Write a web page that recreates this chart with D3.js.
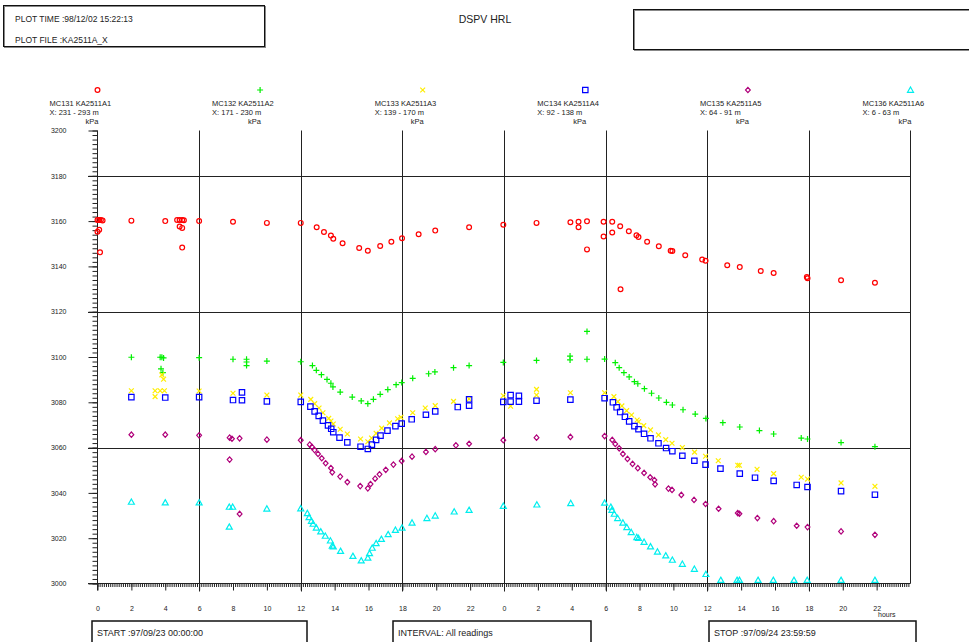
<!DOCTYPE html>
<html>
<head>
<meta charset="utf-8">
<title>DSPV HRL</title>
<style>
  body { margin: 0; padding: 0; background: #fff; }
  svg { display: block; }
  text { font-family: "Liberation Sans", Arial, Helvetica, sans-serif; fill: #222; }
</style>
</head>
<body>
<svg width="969" height="642"></svg>
<script src="https://d3js.org/d3.v7.min.js"></script>
<script>

// readings: [hour since start, value in kPa]
var mc131 = [[0,3160.5],[0.1,3160.5],[0.2,3160.5],[0.3,3160.3],[0.1,3156.2],[0,3155.3],[0.15,3146.2],
  [2,3160.2],[4,3160],[4.7,3160.5],[4.85,3160.5],[5,3160.5],[5.1,3160.4],[4.85,3157.6],[5,3157],[5,3148.3],
  [6,3160],[8,3159.7],[10,3159.2],[12,3159.2],[12.94,3157.3],[13.37,3155.2],[13.78,3153.6],[13.92,3152.2],
  [14.47,3150.2],[15.45,3148.1],[15.96,3146.9],[16.69,3149],[17.35,3150.9],[17.98,3152.4],[18.96,3154.2],
  [19.94,3155.8],[21.94,3157.3],[23.96,3158.4],[25.92,3159.2],[27.92,3159.5],[28.4,3159.7],[28.4,3157.3],
  [28.9,3159.9],[28.9,3147.5],[29.88,3159.7],[29.88,3153.2],[30.39,3159.7],[30.39,3155],[30.86,3157.7],
  [30.88,3129.9],[31.37,3155.5],[31.82,3153.7],[31.94,3153],[32.45,3150.9],[33.14,3148.9],[33.84,3146.9],
  [33.94,3146.8],[34.7,3144.9],[35.7,3143],[35.9,3142.5],[37.18,3140.5],[37.92,3139.7],[39.16,3138],
  [39.92,3137.1],[41.88,3135.3],[41.92,3134.8],[43.9,3133.9],[45.9,3132.8]]

var mc132 = [[2,3099.9],[3.7,3099.9],[3.8,3099.9],[3.9,3099.6],[3.75,3094.8],[3.86,3093.1],[6,3099.7],
  [8,3099],[8.8,3099],[8.8,3097.8],[8.8,3096.2],[10,3098.2],[12,3097.9],[12.69,3096.2],[12.92,3094.1],
  [13.22,3092.2],[13.55,3090.1],[13.78,3088.4],[13.9,3086.8],[14.33,3084.5],[15.04,3082.3],[15.57,3080.6],
  [15.96,3079.4],[16.29,3081.3],[16.69,3083.5],[17.14,3085.6],[17.63,3087.8],[17.96,3088.7],[18.61,3090.6],
  [19.55,3092.6],[19.92,3093.4],[21.02,3095.3],[21.94,3096.2],[23.96,3097.6],[25.92,3098.5],[27.9,3100.4],
  [27.9,3098.7],[28.9,3111.3],[28.9,3099],[29.94,3099.1],[30.57,3097.5],[30.8,3095.3],[31.08,3093.1],
  [31.39,3091.2],[31.7,3089.1],[31.9,3088.2],[32.29,3086],[32.71,3084],[33.14,3081.9],[33.59,3080],
  [33.94,3078.8],[34.57,3076.7],[35.29,3074.8],[35.92,3072.9],[36.92,3071],[37.92,3069.1],[39.08,3067.5],
  [39.92,3066],[41.55,3064.2],[41.92,3063.8],[43.9,3062.2],[45.9,3060.4]]

var mc133 = [[2,3085.1],[3.4,3085.1],[3.7,3085.1],[3.95,3085.1],[3.4,3082.5],[3.8,3092.1],[3.9,3090.2],
  [6,3085],[8,3084],[10,3083.2],[12,3083.2],[12.59,3081.3],[12.82,3079.4],[13.08,3077.5],[13.31,3075.4],
  [13.65,3072.9],[13.78,3071.7],[13.92,3070.4],[14.33,3068.1],[14.75,3066],[15.53,3063.8],[15.96,3062.6],
  [16.18,3064.2],[16.45,3066.3],[16.78,3068.6],[17.24,3070.9],[17.72,3072.7],[17.92,3073.4],[18.61,3075.4],
  [19.35,3077.5],[19.94,3078.5],[21.02,3080.4],[21.94,3081.5],[23.96,3082.9],[24.39,3078.3],[25.92,3085.7],
  [25.92,3083.2],[27.92,3084.2],[29.94,3084.2],[30.49,3082.5],[30.72,3080.3],[30.96,3078.4],[31.24,3076.3],
  [31.53,3074.4],[31.86,3072.2],[31.94,3071.4],[32.25,3069.7],[32.65,3067.8],[33.12,3065.6],[33.55,3063.5],
  [33.92,3061.9],[34.53,3060],[35.25,3058],[35.9,3056.2],[36.65,3054.2],[37.8,3052.2],[37.9,3052.2],
  [38.94,3050.4],[39.92,3048.5],[41.55,3046.9],[41.92,3046.1],[43.9,3044.4],[45.9,3042.9]]

var mc134 = [[2,3082.3],[4,3082.1],[6,3082.3],[8,3081],[8.53,3084.4],[8.53,3080.9],[10,3080.4],[12,3080.2],
  [12.57,3078.1],[12.82,3076],[13.06,3074],[13.31,3071.9],[13.61,3069.8],[13.8,3068.3],[13.92,3066.8],
  [14.29,3064.4],[14.75,3062.3],[15.53,3060.4],[15.96,3059.4],[16.2,3061.3],[16.45,3063.4],[16.71,3065.3],
  [17.12,3067.5],[17.59,3069.5],[17.96,3070.6],[18.55,3072.5],[19.39,3074.5],[19.94,3076],[21.27,3077.9],
  [21.94,3078.5],[21.94,3081.3],[23.96,3080.2],[24.39,3083.2],[24.39,3080.3],[24.88,3082.9],[24.88,3080.3],
  [25.92,3080.7],[27.92,3081.2],[29.94,3081.8],[30.43,3080],[30.65,3077.8],[30.86,3075.7],[31.14,3073.6],
  [31.39,3071.6],[31.7,3069.5],[31.94,3068.1],[32.27,3066.1],[32.65,3064.1],[33.12,3061.9],[33.57,3059.8],
  [33.94,3058.4],[34.53,3056.4],[35.24,3054.2],[35.9,3052.5],[36.78,3050.7],[37.92,3048.5],[38.82,3046.7],
  [39.92,3045.3],[41.28,3043.5],[41.92,3042.6],[43.9,3040.8],[45.9,3039.2]]

var mc135 = [[2,3065.7],[4,3065.7],[6,3065.4],[7.8,3064.4],[7.94,3063.9],[8.39,3064.1],[7.8,3054.7],
  [8.39,3030.7],[10,3063.5],[12,3063.3],[12.53,3061.3],[12.66,3060.3],[12.82,3058.9],[13.02,3057.2],
  [13.24,3055.3],[13.47,3053.1],[13.78,3051],[13.86,3049.1],[14.33,3047.2],[14.75,3044.8],[15.51,3043],
  [15.96,3042],[16.12,3043.9],[16.39,3046.3],[16.65,3048.2],[17.02,3050.2],[17.47,3052.5],[17.96,3054.1],
  [18.57,3056],[19.39,3058.1],[19.94,3059.3],[21.16,3061],[21.94,3061.7],[23.96,3063.3],[25.92,3064.4],
  [27.92,3064.7],[29.94,3065.1],[30.39,3063.4],[30.57,3061.6],[30.8,3059.7],[31.02,3057.2],[31.29,3055],
  [31.59,3052.8],[31.9,3050.9],[32.27,3048.8],[32.63,3046.9],[32.88,3045.7],[32.92,3043.8],[33.71,3041.9],
  [33.92,3041.3],[34.47,3039.1],[35.22,3036.9],[35.9,3035.1],[36.67,3033],[37.8,3031.1],[37.9,3030.8],
  [38.96,3028.9],[39.92,3027.5],[41.28,3025.5],[41.92,3024.9],[43.9,3023],[45.9,3021.5]]

var mc136 = [[2,3036],[4,3035.7],[6,3035.7],[7.78,3033.8],[7.98,3033.8],[7.78,3025],[10,3033],[12,3033.1],
  [12.39,3031],[12.49,3029.2],[12.63,3027.6],[12.73,3026.3],[12.92,3024.6],[13.18,3022.9],[13.45,3021],
  [13.75,3018.9],[13.86,3016.6],[13.92,3016.3],[14.35,3014.3],[15.08,3012.1],[15.57,3010.1],[15.96,3011.3],
  [16.06,3013.3],[16.22,3015.7],[16.45,3017.7],[16.76,3019.6],[17.16,3021.7],[17.59,3023.6],[17.98,3024.6],
  [18.57,3026.8],[19.45,3028.8],[19.94,3029.9],[21.06,3031.7],[21.94,3032.4],[23.96,3034.2],[25.94,3034.8],
  [27.94,3035.4],[29.94,3035.6],[30.31,3033.8],[30.37,3032.4],[30.51,3030.7],[30.71,3028.8],[31.02,3026.8],
  [31.25,3024.8],[31.51,3022.6],[31.84,3020.4],[31.94,3020],[32.27,3018.3],[32.65,3016.3],[33.06,3014],
  [33.55,3012.3],[33.94,3010.4],[34.53,3008.6],[35.24,3006.4],[35.92,3004.1],[36.8,3001.5],[37.76,3001.5],
  [37.9,3001.5],[39,3001.5],[39.9,3001.5],[41.12,3001.5],[41.9,3001.5],[43.9,3001.5],[45.9,3001.5]]

var seriesNames = ["MC131 KA2511A1", "MC132 KA2511A2", "MC133 KA2511A3", "MC134 KA2511A4", "MC135 KA2511A5", "MC136 KA2511A6"]
var seriesRanges = ["X: 231 - 293 m", "X: 171 - 230 m", "X: 139 - 170 m", "X: 92 - 138 m", "X: 64 - 91 m", "X: 6 - 63 m"]
var seriesData = [mc131, mc132, mc133, mc134, mc135, mc136]
var colors = ["#ff0000", "#00f000", "#ffee00", "#0000ff", "#b0007a", "#00eeee"]
var shapes = ["circle", "plus", "cross", "square", "diamond", "triangle"]

var hourTicks = d3.range(0, 47, 2)
var valueTicks = d3.range(3000, 3201, 20)

var svg = d3.select("svg")

var x = d3.scaleLinear().domain([0, 48]).range([97.5, 910.5])
var y = d3.scaleLinear().domain([3000, 3200]).range([583.5, 130.5])

function marker(shape) {
  switch (shape) {
    case "circle": return "M2.4,0A2.4,2.4 0 1,1 -2.4,0A2.4,2.4 0 1,1 2.4,0Z"
    case "plus": return "M-3,0H3M0,-3V3"
    case "cross": return "M-2.4,-2.4L2.4,2.4M-2.4,2.4L2.4,-2.4"
    case "square": return "M-2.7,-2.7H2.7V2.7H-2.7Z"
    case "diamond": return "M0,-2.7L2.4,0L0,2.7L-2.4,0Z"
    case "triangle": return "M0,-3L3,2.3H-3Z"
  }
}

// header
function box(x0, y0, w, h) {
  svg.append("rect").attr("x", x0 + 1).attr("y", y0 + 1).attr("width", w).attr("height", h)
    .attr("fill", "none").attr("stroke", "#888").attr("stroke-width", 1)
  svg.append("rect").attr("x", x0).attr("y", y0).attr("width", w).attr("height", h)
    .attr("fill", "none").attr("stroke", "#111").attr("stroke-width", 1)
}
box(3.5, 5.5, 261, 41)
box(633.5, 9.5, 340, 40)
svg.append("text").attr("x", 15).attr("y", 22).style("font-size", "8.5px").text("PLOT TIME :98/12/02 15:22:13")
svg.append("text").attr("x", 15).attr("y", 43).style("font-size", "8.5px").text("PLOT FILE :KA2511A_X")
svg.append("text").attr("x", 485).attr("y", 23).attr("text-anchor", "middle").style("font-size", "10.5px").text("DSPV HRL")

// legend
var legend = svg.selectAll("g.legend").data(seriesNames).enter().append("g")
  .attr("class", "legend")
  .attr("transform", (d, i) => "translate(" + (x(0) + i * (x(48) - x(0)) / 5) + ",0)")
legend.append("path").attr("transform", "translate(0,90)")
  .attr("d", (d, i) => marker(shapes[i])).attr("fill", "none")
  .attr("stroke", (d, i) => colors[i]).attr("stroke-width", 1.2)
legend.append("text").attr("x", -48).attr("y", 106).style("font-size", "7.5px").text(d => d)
legend.append("text").attr("x", -48).attr("y", 115).style("font-size", "7.5px").text((d, i) => seriesRanges[i])
legend.append("text").attr("x", -12).attr("y", 124).style("font-size", "7.5px").text("kPa")

// grid
svg.append("g").selectAll("line").data(d3.range(3060, 3201, 60)).enter().append("line")
  .attr("x1", 88).attr("x2", x(48)).attr("y1", d => Math.round(y(d)) + 0.5).attr("y2", d => Math.round(y(d)) + 0.5)
  .attr("stroke", "#222").attr("stroke-width", 1)
svg.append("g").selectAll("line").data(d3.range(6, 43, 6)).enter().append("line")
  .attr("x1", d => Math.round(x(d)) + 0.5).attr("x2", d => Math.round(x(d)) + 0.5)
  .attr("y1", y(3200)).attr("y2", y(3000) + 8)
  .attr("stroke", "#222").attr("stroke-width", 1)
svg.append("line").attr("x1", x(48)).attr("x2", x(48)).attr("y1", y(3200)).attr("y2", y(3000))
  .attr("stroke", "#222").attr("stroke-width", 1)

// y axis
var yMinor = svg.append("g").attr("transform", "translate(" + x(0) + ",0)")
  .call(d3.axisLeft(y).tickValues(d3.range(3000, 3201, 2)).tickSize(5).tickFormat(""))
var yMajor = svg.append("g").attr("transform", "translate(" + x(0) + ",0)")
  .call(d3.axisLeft(y).tickValues(valueTicks).tickSize(9).tickPadding(22).tickFormat(d3.format("d")))
yMajor.selectAll("text").style("font-size", "7px").attr("fill", "#222")

// x axis
var xMinor = svg.append("g").attr("transform", "translate(0," + y(3000) + ")")
  .call(d3.axisBottom(x).tickValues(d3.range(0, 48, 0.125)).tickSize(3.5).tickFormat(""))
var xMajor = svg.append("g").attr("transform", "translate(0," + y(3000) + ")")
  .call(d3.axisBottom(x).tickValues(hourTicks).tickSize(7).tickPadding(16).tickFormat(d => d % 24))
xMajor.selectAll("text").style("font-size", "7px").attr("fill", "#222")
svg.selectAll(".domain").remove()
svg.append("line").attr("x1", 88).attr("x2", x(48)).attr("y1", y(3000)).attr("y2", y(3000)).attr("stroke", "#222")
svg.append("line").attr("x1", x(0)).attr("x2", x(0)).attr("y1", y(3200)).attr("y2", y(3000) + 7).attr("stroke", "#222")
svg.selectAll(".tick line").attr("stroke", "#222")
svg.append("text").attr("x", 878).attr("y", 617).style("font-size", "7px").text("hours")

// points
seriesData.forEach((data, i) => {
  svg.append("g").selectAll("path").data(data).enter().append("path")
    .attr("transform", d => "translate(" + x(d[0]) + "," + y(d[1]) + ")")
    .attr("d", marker(shapes[i]))
    .attr("fill", "none")
    .attr("stroke", colors[i])
    .attr("stroke-width", 1.2)
})

// footer
var footer = [["START :97/09/23 00:00:00", 92, 215], ["INTERVAL: All readings", 393, 198], ["STOP :97/09/24 23:59:59", 709, 207]]
footer.forEach(f => {
  svg.append("rect").attr("x", f[1]).attr("y", 621).attr("width", f[2]).attr("height", 30)
    .attr("fill", "none").attr("stroke", "#111").attr("stroke-width", 1.5)
  svg.append("text").attr("x", f[1] + 5).attr("y", 636).style("font-size", "9px").text(f[0])
})

</script>
</body>
</html>
